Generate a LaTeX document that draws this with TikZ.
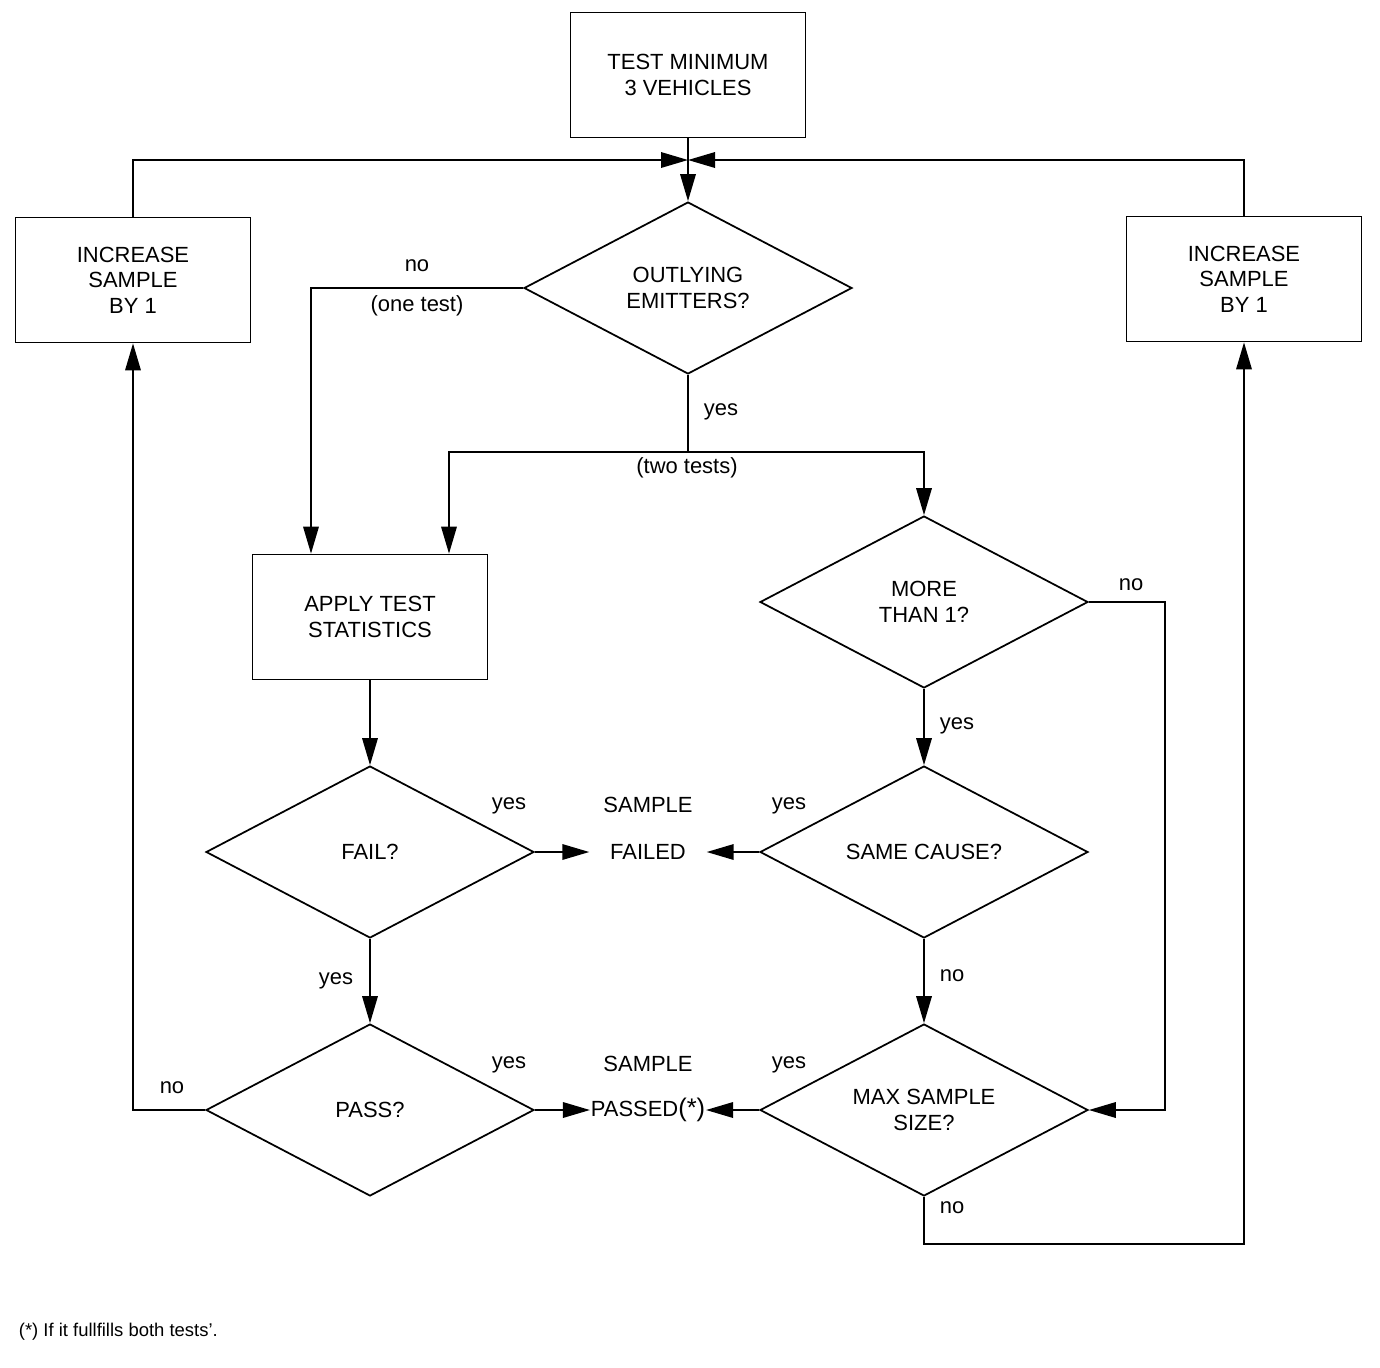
\documentclass[tikz,border=0pt]{standalone}
\usepackage{fontspec}
\setmainfont{Liberation Sans}
\usetikzlibrary{positioning,arrows.meta,shapes.geometric}

\begin{document}
\begin{tikzpicture}[x=0.02cm, y=-0.02cm, >={Triangle[length=5.4mm, width=3.1mm]}, line width=1pt,
	font=\fontsize{12.5}{14.5}\selectfont,
	box/.style={draw, rectangle, align=center, minimum width=4.7cm, minimum height=2.5cm, inner sep=2pt},
	decision/.style={draw, diamond, align=center, aspect=1.9, minimum width=6.56cm, minimum height=3.44cm, inner sep=0pt},
	lbl/.style={inner sep=1pt}]
	\useasboundingbox (0,0) rectangle (1380,1367);

	% Boxes and decisions
	\node[box] (start) at (688,75) {TEST MINIMUM\\3 VEHICLES};
	\node[box] (incl) at (133,280) {INCREASE\\SAMPLE\\BY 1};
	\node[box] (incr) at (1244,279) {INCREASE\\SAMPLE\\BY 1};
	\node[decision] (outlying) at (688,288) {OUTLYING\\EMITTERS?};
	\node[box] (apply) at (370,617) {APPLY TEST\\STATISTICS};
	\node[decision] (more) at (924,602) {MORE\\THAN 1?};
	\node[decision] (fail) at (370,852) {FAIL?};
	\node[decision] (same) at (924,852) {SAME CAUSE?};
	\node[decision] (pass) at (370,1110) {PASS?};
	\node[decision] (max) at (924,1110) {MAX SAMPLE\\SIZE?};

	% Outcomes
	\node[inner xsep=0.4cm] (failed) at (648,852) {FAILED};
	\node[lbl] (failedtop) at (648,805) {SAMPLE};
	\node[inner xsep=0pt] (passed) at (648,1110) {PASSED{\fontsize{14.5}{14.5}\selectfont(*)}};
	\node[lbl] (passedtop) at (648,1064) {SAMPLE};

	% Join and split points
	\coordinate (merge) at (688,160);
	\coordinate (split) at (688,452);

	% Connectors
	\draw[->] (start) -- (outlying);
	\draw[->] (incl.north) |- (merge);
	\draw[->] (incr.north) |- (merge);
	\draw[->] (outlying.west) -| ([shift={(-59,0)}]apply.north);
	\draw (outlying.south) -- (split);
	\draw[->] (split) -| ([shift={(79,0)}]apply.north);
	\draw[->] (split) -| (more.north);
	\draw[->] (apply) -- (fail);
	\draw[->] (fail) -- (pass);
	\draw[->] (fail) -- (failed);
	\draw[->] (same) -- (failed);
	\draw[->] (pass) -- (passed);
	\draw[->] (max) -- (passed);
	\draw[->] (pass.west) -| (incl.south);
	\draw[->] (more) -- (same);
	\draw[->] (same) -- (max);
	\draw[->] (more.east) -- ++(76,0) |- (max.east);
	\draw[->] (max.south) -- ++(0,47) -| (incr.south);

	% Labels
	\node[lbl] (l1) at (417,266) {no};
	\node[lbl] (l2) at (417,306) {(one test)};
	\node[lbl] (l3) at (721,412) {yes};
	\node[lbl] (l4) at (687,468) {(two tests)};
	\node[lbl] (l5) at (1131,585) {no};
	\node[lbl] (l6) at (957,726) {yes};
	\node[lbl] (l7) at (509,806) {yes};
	\node[lbl] (l8) at (789,806) {yes};
	\node[lbl] (l9) at (336,981) {yes};
	\node[lbl] (l10) at (952,976) {no};
	\node[lbl] (l11) at (172,1088) {no};
	\node[lbl] (l12) at (509,1065) {yes};
	\node[lbl] (l13) at (789,1065) {yes};
	\node[lbl] (l14) at (952,1208) {no};

	% Footnote
	\node[anchor=west, inner sep=0pt, font=\fontsize{10.5}{12}\selectfont] (note) at (18,1332) {(*) If it fullfills both tests'.};
\end{tikzpicture}
\end{document}
